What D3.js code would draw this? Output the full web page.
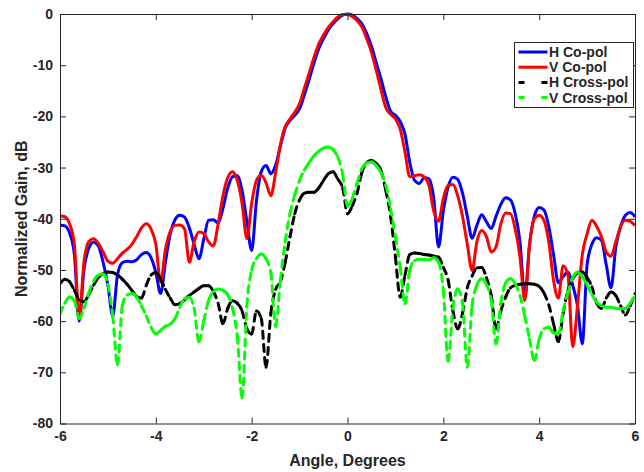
<!DOCTYPE html>
<html><head><meta charset="utf-8">
<script src="https://cdn.jsdelivr.net/npm/d3@7"></script>
<style>body{margin:0;background:#fff}</style>
</head><body><svg id="c" width="644" height="472"></svg>
<script>
const angles = [
-6.0,-5.9,-5.8,-5.7,-5.6,-5.5,-5.4,-5.3,-5.2,-5.1,
-5.0,-4.9,-4.8,-4.7,-4.6,-4.5,-4.4,-4.3,-4.2,-4.1,
-4.0,-3.9,-3.8,-3.7,-3.6,-3.5,-3.4,-3.3,-3.2,-3.1,
-3.0,-2.9,-2.8,-2.7,-2.6,-2.5,-2.4,-2.3,-2.2,-2.1,
-2.0,-1.9,-1.8,-1.7,-1.6,-1.5,-1.4,-1.3,-1.2,-1.1,
-1.0,-0.9,-0.8,-0.7,-0.6,-0.5,-0.4,-0.3,-0.2,-0.1,
0.0,0.1,0.2,0.3,0.4,0.5,0.6,0.7,0.8,0.9,
1.0,1.1,1.2,1.3,1.4,1.5,1.6,1.7,1.8,1.9,
2.0,2.1,2.2,2.3,2.4,2.5,2.6,2.7,2.8,2.9,
3.0,3.1,3.2,3.3,3.4,3.5,3.6,3.7,3.8,3.9,
4.0,4.1,4.2,4.3,4.4,4.5,4.6,4.7,4.8,4.9,
5.0,5.1,5.2,5.3,5.4,5.5,5.6,5.7,5.8,5.9,
6.0];

const hCoPol = [
-41.2,-41.4,-42.8,-47,-60,-50,-45.8,-44.6,-45.3,-48.5,
-53,-59,-51,-48.6,-48.3,-48.4,-48,-47,-46.6,-47.6,
-50.5,-54.6,-48.5,-43,-40.2,-39.3,-39.7,-41.8,-45,-47.8,
-44,-40.3,-40.2,-40.8,-38,-34,-31.8,-31.6,-34.5,-40.5,
-46.2,-36.5,-30.8,-29.6,-31.2,-29.5,-25.8,-22.3,-20.8,-19.8,
-18.5,-15.8,-12.8,-9.6,-6.8,-4.8,-3.1,-1.9,-0.9,-0.2,
0,-0.2,-0.9,-1.9,-3.8,-6.3,-9.5,-12.7,-16.2,-19,
-19.8,-21,-23.5,-29,-32.5,-33.1,-32,-32.2,-36,-45.5,
-38.5,-33.8,-31.9,-32.3,-35,-39.5,-43.8,-41.3,-39.2,-40.6,
-41.9,-39.5,-37.2,-35.9,-36.3,-39,-44.5,-55.3,-45,-39.5,
-37.8,-38.3,-41.5,-47,-52.5,-51.3,-50.4,-53,-57,-64.4,
-49,-45,-43.7,-44.2,-49,-53.5,-45.5,-41.5,-39.3,-38.8,
-39.6];

const vCoPol = [
-39.4,-39.6,-41,-45,-59.5,-48.5,-44.5,-43.9,-44.8,-46.5,
-48.3,-48.7,-47.8,-46.7,-46,-45,-43.5,-41.8,-41,-42,
-45,-52.4,-46,-42.5,-41.3,-41.2,-42,-48.5,-44.5,-42.6,
-42.9,-44.5,-45.3,-41,-35.5,-32,-30.8,-32.5,-37,-43.9,
-37,-32.5,-31.5,-33,-35.5,-31,-25.5,-22,-20.5,-19.2,
-17.5,-14.5,-11.5,-8.5,-5.9,-4.1,-2.6,-1.5,-0.6,-0.1,
-0.1,-0.5,-1.3,-2.5,-4.8,-7.5,-11,-14.8,-18.3,-19.6,
-20.5,-22.5,-27,-31.8,-31.6,-31.4,-31.8,-33.5,-38.5,-40.5,
-36,-33.5,-33.3,-35.5,-39.5,-45,-50.1,-44.5,-42.3,-43.5,
-46.5,-45.5,-41,-38.9,-39,-42,-47.5,-56,-45,-40,
-39.3,-40.3,-44.5,-52,-55.5,-49.2,-51,-65,-57,-47,
-43,-40.3,-41.5,-43.5,-46.5,-47.3,-44.5,-41.5,-40.3,-40.5,
-41.3];

const hCrossPol = [
-52.7,-51.8,-52.3,-54,-55.8,-56.2,-54.8,-53,-51.5,-50.7,
-50.4,-50.5,-51,-51.8,-52.8,-54,-55.2,-55.5,-53,-51,
-50.5,-51.8,-53.8,-55.5,-56.8,-56.6,-55.8,-55,-54.3,-53.6,
-53.1,-53.1,-54.2,-56.5,-60.5,-57.5,-56,-56.5,-58,-61.5,
-62.5,-58,-59.5,-69,-58.5,-53.8,-52.3,-48.5,-43.5,-39,
-36.3,-35,-34.8,-34.8,-34,-32.5,-31.2,-30.8,-32.3,-34,
-39,-37.5,-35,-31,-29,-28.6,-29.2,-30.6,-34.5,-39.5,
-47.5,-55.3,-51,-47,-46.7,-46.8,-47,-47.1,-47.3,-47.5,
-49.5,-52,-58,-61.5,-58.5,-53.5,-51.2,-49.6,-49.5,-51.5,
-55,-61.5,-58,-55.3,-53.5,-53,-52.8,-52.7,-52.7,-52.8,
-53.2,-54.5,-56.8,-60.5,-64,-58.5,-54,-51.8,-50.6,-50.4,
-51.5,-53.3,-56.5,-57.5,-55.5,-54.3,-55,-57,-58.8,-57,
-54.6];

const vCrossPol = [
-58.6,-56.5,-55.3,-56,-59.5,-57.5,-54.5,-52.2,-51,-50.8,
-52.8,-59,-68.5,-57,-54.9,-54.6,-55.3,-57,-59,-61.2,
-62.5,-61.8,-61,-60.6,-59.5,-57.3,-55.6,-55.4,-57.5,-64,
-60,-56,-54.2,-53.7,-54,-54.8,-57.5,-63,-75,-57,
-50,-47.8,-46.9,-47.8,-50.5,-61,-52,-44.5,-39,-35.3,
-32.5,-30.5,-29,-27.7,-26.8,-26.2,-26,-26.5,-28,-31.3,
-37.5,-36,-33,-30.2,-29.1,-28.9,-29.6,-31,-33.5,-38,
-43.5,-49.5,-56.6,-50,-48.2,-47.9,-48,-48,-47.6,-48.5,
-54,-67.8,-57.5,-53.7,-56.5,-69,-57,-53,-51.7,-52.8,
-56,-64.4,-56.5,-52.5,-51.7,-52.7,-55,-59,-63.5,-67.7,
-63.5,-61.5,-61.2,-62.3,-62.5,-58,-54.5,-51.5,-50.4,-51.3,
-53,-54.8,-56.3,-57,-57.3,-57.3,-57.5,-57.6,-57.5,-56.5,
-55];

const seriesNames = ["H Co-pol", "V Co-pol", "H Cross-pol", "V Cross-pol"];
const seriesColors = ["#0000ff", "#ff0000", "#000000", "#00ff00"];
const seriesDashed = [false, false, true, true];
const seriesValues = [hCoPol, vCoPol, hCrossPol, vCrossPol];
const xTicks = [-6, -4, -2, 0, 2, 4, 6];
const yTicks = [0, -10, -20, -30, -40, -50, -60, -70, -80];
const xLabel = "Angle, Degrees";
const yLabel = "Normalized Gain, dB";

const W = 644, H = 472;
const L = 60, R = 635, T = 14, B = 423.5;
const ink = "#262626";
const font = "'Liberation Sans', Arial, Helvetica, sans-serif";
const LW = 3;

const svg = d3.select("#c");
svg.append("rect").attr("width", W).attr("height", H).attr("fill", "#fff");

const x = d3.scaleLinear().domain([-6, 6]).range([L, R]);
const y = d3.scaleLinear().domain([-80, 0]).range([B, T]);

svg.append("defs").append("clipPath").attr("id", "clip")
  .append("rect").attr("x", L).attr("y", T - 3).attr("width", R - L).attr("height", B - T + 6);

const plot = svg.append("g").attr("clip-path", "url(#clip)");
const line = d3.line().x(d => x(d[0])).y(d => y(d[1])).curve(d3.curveMonotoneX);

// Split the smooth curve into per-sample pieces so the dash pattern restarts at each sample
function pieces(pts) {
  const segs = []; let cx = 0, cy = 0;
  const ctx = {
    moveTo(a, b) { cx = a; cy = b; },
    lineTo(a, b) { segs.push(`M${cx},${cy}L${a},${b}`); cx = a; cy = b; },
    bezierCurveTo(a, b, c, d, e, f) { segs.push(`M${cx},${cy}C${a},${b},${c},${d},${e},${f}`); cx = e; cy = f; },
    closePath() {}
  };
  d3.line().x(d => x(d[0])).y(d => y(d[1])).curve(d3.curveMonotoneX).context(ctx)(pts);
  return segs;
}

seriesValues.forEach((vals, si) => {
  const pts = angles.map((a, i) => [a, vals[i]]);
  if (!seriesDashed[si]) {
    plot.append("path").datum(pts).attr("d", line)
      .attr("fill", "none").attr("stroke", seriesColors[si])
      .attr("stroke-width", LW).attr("stroke-linejoin", "round");
  } else {
    plot.append("g").selectAll("path").data(pieces(pts)).join("path")
      .attr("d", d => d)
      .attr("fill", "none").attr("stroke", seriesColors[si])
      .attr("stroke-width", LW).attr("stroke-linecap", "round")
      .attr("stroke-dasharray", "7,6");
  }
});

function styleAxis(g) {
  g.selectAll("path.domain").attr("stroke", ink).attr("stroke-width", 1);
  g.selectAll(".tick line").attr("stroke", ink).attr("stroke-width", 1);
  g.selectAll("text").attr("fill", ink).attr("font-family", font)
    .attr("font-size", 14).attr("font-weight", "bold");
}

svg.append("g").attr("transform", `translate(0,${B})`)
  .call(d3.axisBottom(x).tickValues(xTicks).tickSize(-6).tickSizeOuter(0).tickPadding(8).tickFormat(d3.format("d")))
  .call(styleAxis);
svg.append("g").attr("transform", `translate(0,${T})`)
  .call(d3.axisTop(x).tickValues(xTicks).tickSize(-6).tickSizeOuter(0).tickFormat(""))
  .call(styleAxis);
svg.append("g").attr("transform", `translate(${L},0)`)
  .call(d3.axisLeft(y).tickValues(yTicks).tickSize(-6).tickSizeOuter(0).tickPadding(7).tickFormat(d3.format("d")))
  .call(styleAxis);
svg.append("g").attr("transform", `translate(${R},0)`)
  .call(d3.axisRight(y).tickValues(yTicks).tickSize(-6).tickSizeOuter(0).tickFormat(""))
  .call(styleAxis);

svg.selectAll(".tick text").filter(function(){ return this.textContent.startsWith("−"); })
  .text(function(){ return "-" + this.textContent.slice(1); });

svg.append("text").attr("x", (L + R) / 2).attr("y", 466)
  .attr("text-anchor", "middle").attr("font-family", font).attr("font-size", 16)
  .attr("font-weight", "bold").attr("fill", ink).text(xLabel);
svg.append("text").attr("transform", `translate(27,${(T + B) / 2}) rotate(-90)`)
  .attr("text-anchor", "middle").attr("font-family", font).attr("font-size", 16)
  .attr("font-weight", "bold").attr("fill", ink).text(yLabel);

// legend
const lg = svg.append("g");
lg.append("rect").attr("x", 514.5).attr("y", 42.5).attr("width", 119).attr("height", 65)
  .attr("fill", "#fff").attr("stroke", ink).attr("stroke-width", 1);
seriesNames.forEach((name, i) => {
  const cy = 52 + i * 15.2;
  lg.append("line").attr("x1", 518.5).attr("x2", 547.5).attr("y1", cy).attr("y2", cy)
    .attr("stroke", seriesColors[i]).attr("stroke-width", LW)
    .attr("stroke-dasharray", seriesDashed[i] ? "6,17,6" : null);
  lg.append("text").attr("x", 549).attr("y", cy + 5)
    .attr("font-family", font).attr("font-size", 14).attr("font-weight", "bold")
    .attr("fill", ink).text(name);
});
</script>
</body></html>
